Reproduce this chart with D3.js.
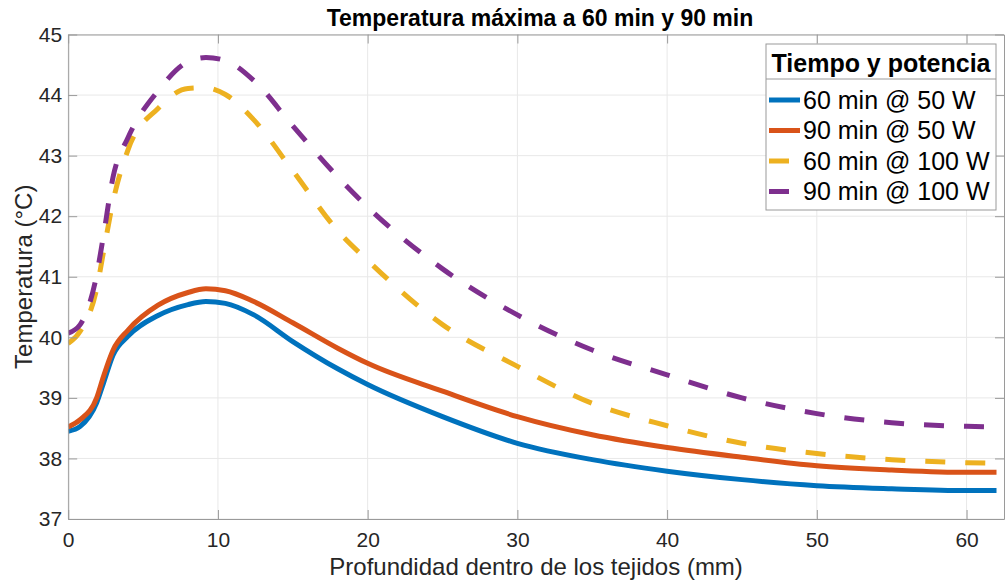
<!DOCTYPE html>
<html>
<head>
<meta charset="utf-8">
<script src="https://cdn.jsdelivr.net/npm/d3@7"></script>
<style>
  html, body { margin: 0; padding: 0; background: #fff; }
  svg { display: block; font-family: "Liberation Sans", Arial, sans-serif; }
</style>
</head>
<body>
<svg id="chart" width="1005" height="583"></svg>
<script>
// ---- Data ----
const depth = [0, 0.8, 1.9, 2.35, 3.0, 4.0, 6.0, 8.0, 9.2, 10.5, 12.4, 15, 18, 20, 25, 30, 35, 40, 45, 50, 55, 60, 62];
const t60_50  = [38.45, 38.53, 38.92, 39.24, 39.71, 40.02, 40.36, 40.54, 40.59, 40.56, 40.37, 39.93, 39.48, 39.22, 38.69, 38.25, 37.98, 37.79, 37.65, 37.55, 37.50, 37.47, 37.47];
const t90_50  = [38.52, 38.64, 39.00, 39.35, 39.79, 40.12, 40.53, 40.74, 40.80, 40.77, 40.59, 40.24, 39.82, 39.57, 39.11, 38.69, 38.39, 38.18, 38.02, 37.88, 37.81, 37.77, 37.77];
const t60_100 = [39.90, 40.10, 40.80, 41.40, 42.25, 43.10, 43.78, 44.11, 44.12, 44.01, 43.59, 42.75, 41.76, 41.27, 40.21, 39.52, 38.91, 38.54, 38.25, 38.08, 37.98, 37.93, 37.92];
const t90_100 = [40.07, 40.21, 41.03, 41.67, 42.65, 43.30, 44.07, 44.55, 44.62, 44.57, 44.24, 43.49, 42.65, 42.15, 41.13, 40.37, 39.79, 39.38, 39.00, 38.74, 38.59, 38.53, 38.52];

const seriesNames = ["60 min @ 50 W", "90 min @ 50 W", "60 min @ 100 W", "90 min @ 100 W"];
const seriesValues = [t60_50, t90_50, t60_100, t90_100];
const seriesColors = ["#0072BD", "#D95319", "#EDB120", "#7E2F8E"];
const seriesDashed = [false, false, true, true];

const xTicks = [0, 10, 20, 30, 40, 50, 60];
const yTicks = [37, 38, 39, 40, 41, 42, 43, 44, 45];
const xDomain = [0, 62.5];
const yDomain = [37, 45];

const titleText = "Temperatura máxima a 60 min y 90 min";
const xLabel = "Profundidad dentro de los tejidos (mm)";
const yLabel = "Temperatura (°C)";
const legendTitle = "Tiempo y potencia";

// ---- Layout ----
const svg = d3.select("#chart");
const L = 68.2, T = 34.5, R = 1004, B = 519;
const x = d3.scaleLinear().domain(xDomain).range([L, R]);
const y = d3.scaleLinear().domain(yDomain).range([B, T]);

const axisColor = "#9a9a9a";
const textColor = "#262626";
const gridColor = "#e8e8e8";

// grid
const grid = svg.append("g");
grid.selectAll("line.gx").data(xTicks).enter().append("line")
  .attr("x1", d => x(d)).attr("x2", d => x(d)).attr("y1", T).attr("y2", B)
  .attr("stroke", gridColor).attr("stroke-width", 1);
grid.selectAll("line.gy").data(yTicks).enter().append("line")
  .attr("x1", L).attr("x2", R).attr("y1", d => y(d)).attr("y2", d => y(d))
  .attr("stroke", gridColor).attr("stroke-width", 1);

// clip
svg.append("defs").append("clipPath").attr("id", "clip")
  .append("rect").attr("x", L).attr("y", T).attr("width", R - L).attr("height", B - T);

// lines
const line = d3.line().curve(d3.curveMonotoneX)
  .x(d => x(d[0])).y(d => y(d[1]));
const plot = svg.append("g").attr("clip-path", "url(#clip)");
seriesValues.forEach((vals, i) => {
  plot.append("path")
    .datum(depth.map((d, j) => [d, vals[j]]))
    .attr("d", line)
    .attr("fill", "none")
    .attr("stroke", seriesColors[i])
    .attr("stroke-width", 5)
    .attr("stroke-linejoin", "round")
    .attr("stroke-dasharray", seriesDashed[i] ? "20,20" : null);
});

// axes
function styleAxis(g) {
  g.selectAll(".domain").attr("stroke", axisColor);
  g.selectAll(".tick line").attr("stroke", axisColor);
  g.selectAll(".tick text").attr("fill", textColor).style("font-size", "21px")
    .style("font-family", "'Liberation Sans', Arial, sans-serif");
}
svg.append("g").attr("transform", `translate(0,${B})`)
  .call(d3.axisBottom(x).tickValues(xTicks).tickSize(-9).tickSizeOuter(0).tickPadding(13))
  .call(styleAxis);
svg.append("g").attr("transform", `translate(0,${T})`)
  .call(d3.axisTop(x).tickValues(xTicks).tickSize(-9).tickSizeOuter(0).tickFormat(""))
  .call(styleAxis);
svg.append("g").attr("transform", `translate(${L},0)`)
  .call(d3.axisLeft(y).tickValues(yTicks).tickSize(-9).tickSizeOuter(0).tickPadding(6))
  .call(styleAxis);
svg.append("g").attr("transform", `translate(${R},0)`)
  .call(d3.axisRight(y).tickValues(yTicks).tickSize(-9).tickSizeOuter(0).tickFormat(""))
  .call(styleAxis);

// title & labels
svg.append("text").attr("x", 540).attr("y", 26).attr("text-anchor", "middle")
  .attr("fill", "#000").style("font-size", "23px").style("font-weight", "bold")
  .text(titleText);
svg.append("text").attr("x", (L + R) / 2).attr("y", 575).attr("text-anchor", "middle")
  .attr("fill", textColor).style("font-size", "24px").text(xLabel);
svg.append("text").attr("transform", `translate(32,${(T + B) / 2}) rotate(-90)`)
  .attr("text-anchor", "middle").attr("fill", textColor).style("font-size", "24px")
  .text(yLabel);

// legend
const lg = svg.append("g");
const lx = 766, ly = 44, lw = 230, lh = 166;
lg.append("rect").attr("x", lx).attr("y", ly).attr("width", lw).attr("height", lh)
  .attr("fill", "#fff").attr("stroke", axisColor).attr("stroke-width", 1);
lg.append("line").attr("x1", lx).attr("x2", lx + lw).attr("y1", 79).attr("y2", 79)
  .attr("stroke", axisColor).attr("stroke-width", 1);
lg.append("text").attr("x", lx + lw / 2).attr("y", 72).attr("text-anchor", "middle")
  .attr("fill", "#000").style("font-size", "25px").style("font-weight", "bold")
  .text(legendTitle);
seriesNames.forEach((name, i) => {
  const cy = 100 + i * 30.5;
  lg.append("line").attr("x1", 769).attr("x2", 800).attr("y1", cy).attr("y2", cy)
    .attr("stroke", seriesColors[i]).attr("stroke-width", 5)
    .attr("stroke-dasharray", seriesDashed[i] ? "20,20" : null);
  lg.append("text").attr("x", 803).attr("y", cy + 8.5)
    .attr("fill", "#000").style("font-size", "25px").text(name);
});
</script>
</body>
</html>
